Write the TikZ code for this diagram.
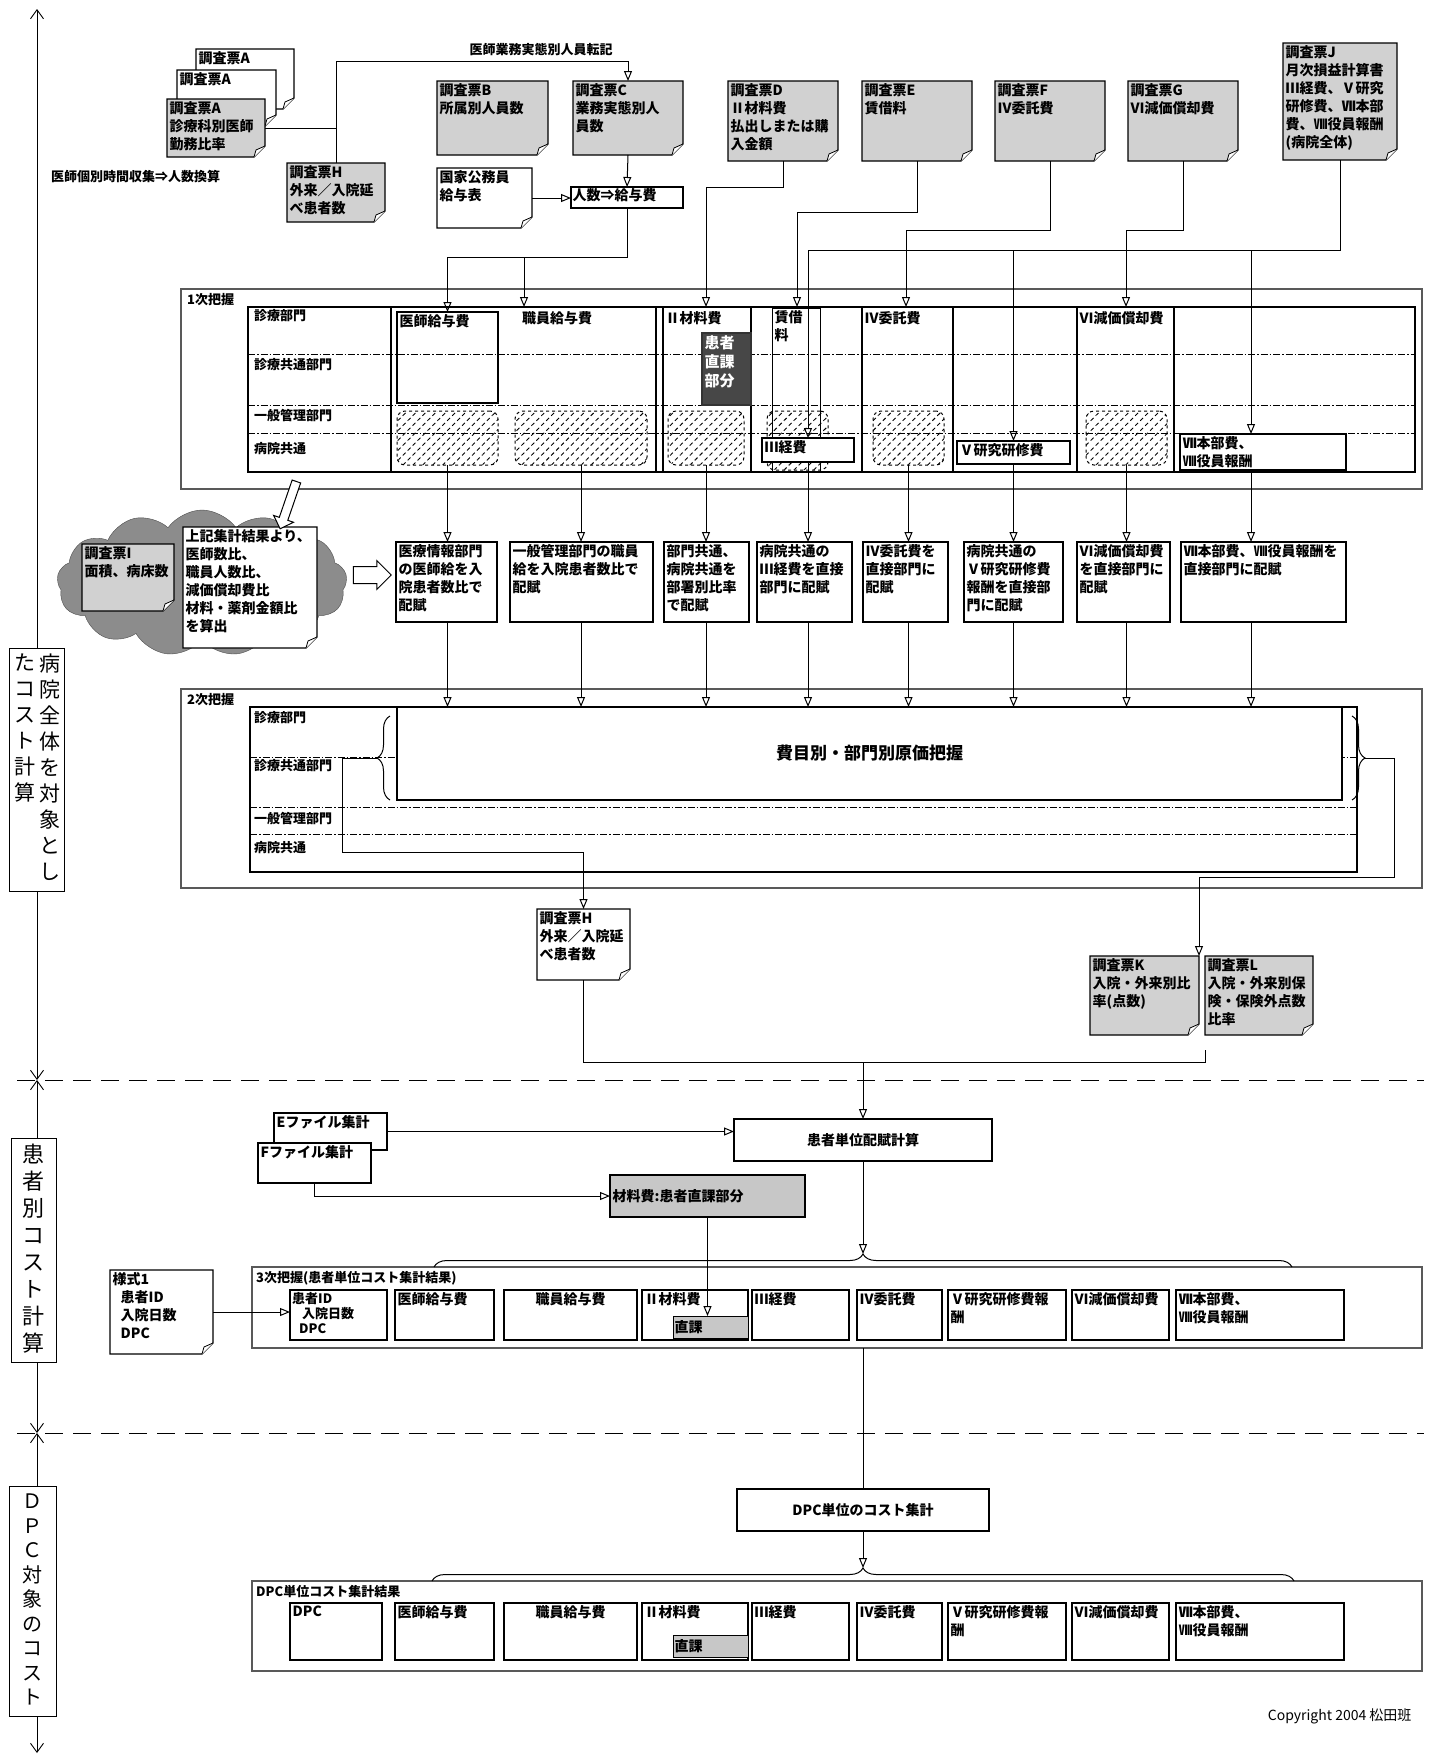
\documentclass[tikz,border=0pt]{standalone}
\usepackage{fontspec}
\setmainfont{Noto Sans CJK JP}
\usepackage{tikz}
\usetikzlibrary{positioning, arrows.meta, shapes.symbols, shapes.arrows, patterns.meta, decorations.pathreplacing}

\newcommand{\fs}{\fontsize{14}{18}\selectfont}
\newcommand{\fchico}{\fontsize{13}{16}\selectfont}

\tikzset{
    box_ficha/.style={rectangle, inner sep=0pt, outer sep=0pt, anchor=north west},
    texto_ficha/.style={anchor=north west, align=left, inner sep=2.5pt, font=\fs\bfseries},
    box_celda/.style={rectangle, draw, line width=1.3pt, fill=white, anchor=north west, inner sep=0pt, outer sep=0pt, font=\fs\bfseries},
    box_lateral/.style={rectangle, draw, line width=1pt, fill=white, anchor=north west, inner sep=0pt, outer sep=0pt},
    box_marco/.style={rectangle, draw=black!65, line width=2.5pt, anchor=north west, inner sep=0pt, outer sep=0pt},
    box_rayado/.style={rectangle, draw, dashed, rounded corners=8pt, line width=1pt, anchor=north west, inner sep=0pt, outer sep=0pt, pattern={Lines[angle=45, distance=7pt, line width=0.9pt]}},
    linea/.style={draw, line width=1pt},
    flecha/.style={draw, line width=1pt, -{Triangle[open, length=10pt, width=8pt]}},
    fila/.style={draw, line width=0.8pt, dash pattern=on 7pt off 2pt on 1.5pt off 2pt},
    llave/.style={draw, line width=1pt, decorate, decoration={brace, amplitude=13pt}},
    eje/.style={draw, line width=0.9pt, {Straight Barb[length=9pt, width=13pt]}-{Straight Barb[length=9pt, width=13pt]}},
    separador/.style={draw, line width=1pt, dash pattern=on 18pt off 10pt},
    texto_tate/.style={anchor=north, align=center, inner sep=0pt},
    rotulo/.style={anchor=west, inner sep=1pt, font=\fchico\bfseries},
    flecha_hueca/.style={single arrow, draw, line width=1pt, fill=white, single arrow head extend=6pt}
}

% hoja con esquina doblada
\newcommand{\ficha}[7]{%
    \node[box_ficha, minimum width=#4pt, minimum height=#5pt] (#1) at (#2,#3) {};
    \filldraw[line width=1.1pt, fill=#6] (#1.north west) -- (#1.north east) -- ([yshift=11pt]#1.south east) -- ([xshift=-11pt]#1.south east) -- (#1.south west) -- cycle;
    \filldraw[line width=0.8pt, fill=white] ([yshift=11pt]#1.south east) -- ([xshift=-9pt, yshift=7pt]#1.south east) -- ([xshift=-11pt]#1.south east);
    \node[texto_ficha] (#1_txt) at (#1.north west) {#7};
}
% caja con texto arriba a la izquierda
\newcommand{\celda}[6]{%
    \node[box_celda, minimum width=#4pt, minimum height=#5pt] (#1) at (#2,#3) {};
    \node[texto_ficha] (#1_txt) at (#1.north west) {#6};
}

\begin{document}
\begin{tikzpicture}[x=1pt, y=-1pt]
    \useasboundingbox (0,0) rectangle (1432,1759);

    % 1. Eje izquierdo y separadores
    \draw[eje] (37,9) -- (37,1080);
    \draw[eje] (37,1080) -- (37,1433);
    \draw[eje] (37,1433) -- (37,1753);
    \draw[separador] (17,1080) -- (1424,1080);
    \draw[separador] (17,1433) -- (1424,1433);

    \node[box_lateral, minimum width=55pt, minimum height=243pt] (lado_hospital) at (9,648) {};
    \node[texto_tate, font=\fontsize{21}{26}\selectfont] (lado_hospital_der) at ([xshift=13pt, yshift=-6pt]lado_hospital.north) {病\\院\\全\\体\\を\\対\\象\\と\\し};
    \node[texto_tate, font=\fontsize{21}{26}\selectfont] (lado_hospital_izq) at ([xshift=-12pt, yshift=-6pt]lado_hospital.north) {た\\コ\\ス\\ト\\計\\算};
    \node[box_lateral, minimum width=45pt, minimum height=224pt] (lado_paciente) at (11,1138) {};
    \node[texto_tate, font=\fontsize{22}{27}\selectfont] (lado_paciente_txt) at ([yshift=-6pt]lado_paciente.north) {患\\者\\別\\コ\\ス\\ト\\計\\算};
    \node[box_lateral, minimum width=47pt, minimum height=230pt] (lado_dpc) at (9,1486) {};
    \node[texto_tate, font=\fontsize{20}{24.5}\selectfont] (lado_dpc_txt) at ([yshift=-8pt]lado_dpc.north) {Ｄ\\Ｐ\\Ｃ\\対\\象\\の\\コ\\ス\\ト};

    % 2. Fichas de la encuesta
    \ficha{hojaA3}{196}{49}{98}{60}{white}{調査票A}
    \ficha{hojaA2}{177}{70}{99}{56}{white}{調査票A}
    \ficha{hojaA1}{167}{99}{98}{58}{black!18}{調査票A\\診療科別医師\\勤務比率}
    \ficha{hojaH1}{287}{163}{98}{59}{black!18}{調査票H\\外来／入院延\\べ患者数}
    \ficha{hojaB}{437}{81}{111}{74}{black!18}{調査票B\\所属別人員数}
    \ficha{hojaC}{573}{81}{110}{74}{black!18}{調査票C\\業務実態別人\\員数}
    \ficha{kokka}{437}{168}{95}{60}{white}{国家公務員\\給与表}
    \node[box_celda, line width=1.1pt, minimum width=112pt, minimum height=21pt] (ninzu) at (571,187) {};
    \node[texto_ficha, inner sep=1.5pt] (ninzu_txt) at (ninzu.north west) {人数⇒給与費};
    \ficha{hojaD}{728}{81}{110}{80}{black!18}{調査票D\\Ⅱ材料費\\払出しまたは購\\入金額}
    \ficha{hojaE}{862}{81}{110}{80}{black!18}{調査票E\\賃借料}
    \ficha{hojaF}{995}{81}{110}{80}{black!18}{調査票F\\Ⅳ委託費}
    \ficha{hojaG}{1128}{81}{110}{80}{black!18}{調査票G\\Ⅵ減価償却費}
    \ficha{hojaJ}{1283}{43}{114}{117}{black!18}{調査票J\\月次損益計算書\\Ⅲ経費、Ⅴ研究\\研修費、Ⅶ本部\\費、Ⅷ役員報酬\\(病院全体)}

    \node[rotulo, anchor=center] (rotulo_tenki) at (541,50) {医師業務実態別人員転記};
    \node[rotulo] (rotulo_jikan) at (50,177) {医師個別時間収集⇒人数換算};

    % 3. 1次把握
    \node[box_marco, minimum width=1241pt, minimum height=200pt] (marco1) at (181,289) {};
    \node[rotulo, anchor=north west] (marco1_txt) at ([xshift=5pt, yshift=-3pt]marco1.north west) {1次把握};
    \node[box_celda, line width=1.2pt, minimum width=1167pt, minimum height=165pt] (tabla1) at (248,307) {};
    \draw[fila] (248,354) -- (1415,354);
    \draw[fila] (248,405) -- (1415,405);
    \draw[fila] (248,433) -- (1415,433);
    \foreach \x in {391,656,663,751,862,953,1077,1174}
        \draw[line width=1.1pt] (\x,307) -- (\x,472);
    \node[rotulo] (t1_shinryo) at (253,316) {診療部門};
    \node[rotulo] (t1_kyotsu) at (253,365) {診療共通部門};
    \node[rotulo] (t1_kanri) at (253,416) {一般管理部門};
    \node[rotulo] (t1_byoin) at (253,449) {病院共通};

    \node[box_celda, fill=none, minimum width=101pt, minimum height=91pt] (ishi1) at (397,312) {};
    \node[texto_ficha] (ishi1_txt) at (ishi1.north west) {医師給与費};
    \node[texto_ficha, anchor=north] (shokuin1_txt) at (557,309) {職員給与費};
    \node[texto_ficha] (zairyo1_txt) at (663,309) {Ⅱ材料費};
    \node[box_celda, fill=none, line width=1pt, minimum width=48pt, minimum height=163pt] (chin1) at (772,308) {};
    \node[texto_ficha] (chin1_txt) at (chin1.north west) {賃借\\料};
    \node[texto_ficha] (itaku1_txt) at (862,309) {Ⅳ委託費};
    \node[texto_ficha] (gensho1_txt) at (1077,309) {Ⅵ減価償却費};

    \node[box_rayado, minimum width=101pt, minimum height=54pt] (rayado1) at (397,411) {};
    \node[box_rayado, minimum width=132pt, minimum height=54pt] (rayado2) at (515,411) {};
    \node[box_rayado, minimum width=76pt, minimum height=54pt] (rayado3) at (668,411) {};
    \node[box_rayado, minimum width=61pt, minimum height=59pt] (rayado4) at (767,411) {};
    \node[box_rayado, minimum width=71pt, minimum height=54pt] (rayado5) at (873,411) {};
    \node[box_rayado, minimum width=81pt, minimum height=54pt] (rayado6) at (1086,411) {};

    \node[box_celda, draw=black!80, fill=black!72, minimum width=49pt, minimum height=72pt] (kanja1) at (702,333) {};
    \node[texto_ficha, text=white, font=\fontsize{15}{19}\selectfont\bfseries] (kanja1_txt) at (kanja1.north west) {患者\\直課\\部分};
    \celda{keihi1}{762}{438}{92}{24}{Ⅲ経費}
    \celda{kenkyu1}{957}{441}{113}{23}{Ⅴ研究研修費}
    \celda{honbu1}{1180}{434}{166}{36}{Ⅶ本部費、\\Ⅷ役員報酬}

    % 4. Nube con los ratios
    \node[cloud, cloud puffs=13, cloud puff arc=110, aspect=2, draw=black!70, fill=black!45, minimum width=290pt, minimum height=146pt] (nube) at (202,583) {};
    \ficha{hojaI}{82}{544}{92}{67}{black!18}{調査票I\\面積、病床数}
    \ficha{nota}{183}{527}{134}{121}{white}{上記集計結果より、\\医師数比、\\職員人数比、\\減価償却費比\\材料・薬剤金額比\\を算出}
    \node[flecha_hueca, minimum height=50pt, inner sep=4pt, rotate=-109] (flecha_nota) at (289,503) {};
    \node[flecha_hueca, minimum height=38pt, inner sep=8pt] (flecha_nube) at (368,575) {};

    % 5. Cajas de reparto
    \celda{reparto1}{396}{542}{101}{80}{医療情報部門\\の医師給を入\\院患者数比で\\配賦}
    \celda{reparto2}{510}{542}{143}{80}{一般管理部門の職員\\給を入院患者数比で\\配賦}
    \celda{reparto3}{664}{542}{85}{80}{部門共通、\\病院共通を\\部署別比率\\で配賦}
    \celda{reparto4}{757}{542}{95}{80}{病院共通の\\Ⅲ経費を直接\\部門に配賦}
    \celda{reparto5}{863}{542}{85}{80}{Ⅳ委託費を\\直接部門に\\配賦}
    \celda{reparto6}{964}{542}{99}{80}{病院共通の\\Ⅴ研究研修費\\報酬を直接部\\門に配賦}
    \celda{reparto7}{1077}{542}{93}{80}{Ⅵ減価償却費\\を直接部門に\\配賦}
    \celda{reparto8}{1181}{542}{165}{80}{Ⅶ本部費、Ⅷ役員報酬を\\直接部門に配賦}

    % 6. 2次把握
    \node[box_marco, minimum width=1241pt, minimum height=199pt] (marco2) at (181,689) {};
    \node[rotulo, anchor=north west] (marco2_txt) at ([xshift=5pt, yshift=-3pt]marco2.north west) {2次把握};
    \node[box_celda, line width=1.2pt, minimum width=1107pt, minimum height=165pt] (tabla2) at (250,707) {};
    \draw[fila] (250,757) -- (1357,757);
    \draw[fila] (250,807) -- (1357,807);
    \draw[fila] (250,834) -- (1357,834);
    \node[rotulo] (t2_shinryo) at (253,718) {診療部門};
    \node[rotulo] (t2_kyotsu) at (253,766) {診療共通部門};
    \node[rotulo] (t2_kanri) at (253,818) {一般管理部門};
    \node[rotulo] (t2_byoin) at (253,848) {病院共通};
    \node[box_celda, minimum width=945pt, minimum height=93pt, font=\fontsize{17}{20}\selectfont\bfseries] (grande) at (397,707) {費目別・部門別原価把握};
    \draw[llave] (390,800) -- (390,716);
    \draw[llave] (1352,716) -- (1352,800);
    \coordinate (llave_izq) at (377,758);
    \coordinate (llave_der) at (1365,758);

    % 7. Fichas H, K, L
    \ficha{hojaH2}{537}{909}{93}{71}{white}{調査票H\\外来／入院延\\べ患者数}
    \ficha{hojaK}{1090}{956}{109}{79}{black!18}{調査票K\\入院・外来別比\\率(点数)}
    \ficha{hojaL}{1205}{956}{108}{79}{black!18}{調査票L\\入院・外来別保\\険・保険外点数\\比率}
    \coordinate (union_KL) at ([yshift=-15pt]hojaL.south west);
    \coordinate (union) at (863,1062);

    % 8. Calculo por paciente
    \node[box_celda, minimum width=258pt, minimum height=42pt] (paciente) at (734,1119) {患者単位配賦計算};
    \celda{archivoE}{274}{1113}{113}{37}{Eファイル集計}
    \celda{archivoF}{258}{1143}{113}{40}{Fファイル集計}
    \node[box_celda, fill=black!22, minimum width=195pt, minimum height=42pt] (material) at (610,1175) {};
    \node[texto_ficha, anchor=west] (material_txt) at (material.west) {材料費:患者直課部分};
    \ficha{yoshiki}{110}{1270}{103}{84}{white}{様式1\\\hspace{8pt}患者ID\\\hspace{8pt}入院日数\\\hspace{8pt}DPC}

    \node[box_marco, minimum width=1170pt, minimum height=81pt] (marco3) at (252,1267) {};
    \node[rotulo, anchor=north west] (marco3_txt) at ([xshift=3pt, yshift=-3pt]marco3.north west) {3次把握(患者単位コスト集計結果)};
    \draw[llave] (434,1267) -- (1292,1267);
    \coordinate (llave3_punta) at (863,1254);
    \node[box_celda, minimum width=97pt, minimum height=50pt] (c3_id) at (290,1290) {};
    \node[texto_ficha, font=\fontsize{13}{15}\selectfont\bfseries, inner sep=2pt] (c3_id_txt) at (c3_id.north west) {患者ID\\\hspace{10pt}入院日数\\\hspace{7pt}DPC};
    \celda{c3_ishi}{395}{1290}{99}{50}{医師給与費}
    \node[box_celda, minimum width=133pt, minimum height=50pt] (c3_shokuin) at (504,1290) {};
    \node[texto_ficha, anchor=north] (c3_shokuin_txt) at (c3_shokuin.north) {職員給与費};
    \celda{c3_zairyo}{642}{1290}{106}{50}{Ⅱ材料費}
    \node[box_celda, line width=1pt, fill=black!22, minimum width=75pt, minimum height=22pt] (chokka3) at (673,1316) {};
    \node[texto_ficha, anchor=west, inner sep=1.5pt] (chokka3_txt) at (chokka3.west) {直課};
    \celda{c3_keihi}{752}{1290}{97}{50}{Ⅲ経費}
    \celda{c3_itaku}{857}{1290}{85}{50}{Ⅳ委託費}
    \celda{c3_kenkyu}{948}{1290}{118}{50}{Ⅴ研究研修費報\\酬}
    \celda{c3_gensho}{1072}{1290}{97}{50}{Ⅵ減価償却費}
    \celda{c3_honbu}{1176}{1290}{168}{50}{Ⅶ本部費、\\Ⅷ役員報酬}

    % 9. Costo por DPC
    \node[box_celda, minimum width=252pt, minimum height=42pt] (dpcsuma) at (737,1489) {DPC単位のコスト集計};
    \node[box_marco, minimum width=1170pt, minimum height=90pt] (marco4) at (252,1581) {};
    \node[rotulo, anchor=north west] (marco4_txt) at ([xshift=3pt, yshift=-3pt]marco4.north west) {DPC単位コスト集計結果};
    \draw[llave] (432,1581) -- (1294,1581);
    \coordinate (llave4_punta) at (863,1568);
    \celda{c4_dpc}{290}{1603}{92}{57}{DPC}
    \celda{c4_ishi}{395}{1603}{99}{57}{医師給与費}
    \node[box_celda, minimum width=133pt, minimum height=57pt] (c4_shokuin) at (504,1603) {};
    \node[texto_ficha, anchor=north] (c4_shokuin_txt) at (c4_shokuin.north) {職員給与費};
    \celda{c4_zairyo}{642}{1603}{106}{57}{Ⅱ材料費}
    \node[box_celda, line width=1pt, fill=black!22, minimum width=75pt, minimum height=22pt] (chokka4) at (673,1635) {};
    \node[texto_ficha, anchor=west, inner sep=1.5pt] (chokka4_txt) at (chokka4.west) {直課};
    \celda{c4_keihi}{752}{1603}{97}{57}{Ⅲ経費}
    \celda{c4_itaku}{857}{1603}{85}{57}{Ⅳ委託費}
    \celda{c4_kenkyu}{948}{1603}{118}{57}{Ⅴ研究研修費報\\酬}
    \celda{c4_gensho}{1072}{1603}{97}{57}{Ⅵ減価償却費}
    \celda{c4_honbu}{1176}{1603}{168}{57}{Ⅶ本部費、\\Ⅷ役員報酬}

    \node[anchor=east, font=\fontsize{14}{16}\selectfont] (copyright) at (1415,1716) {Copyright 2004 松田班};

    % --- CONEXIONES ---

    % Parte superior
    \draw[linea] (hojaA1.east) -| (hojaH1.north);
    \draw[flecha] (hojaH1.north) -- ++(0,-102) -| (hojaC.north);
    \draw[flecha] (kokka.east) -- (kokka.east -| ninzu.west);
    \draw[flecha] (hojaC.south) -- (ninzu.north);
    \draw[flecha] (ninzu.south) -- ++(0,49) -| (ishi1.north);
    \coordinate (rama_shokuin) at (524,257);
    \draw[flecha] (rama_shokuin) -- (rama_shokuin |- tabla1.north);
    \coordinate (in_zairyo) at (706,307);
    \coordinate (in_chin) at (797,307);
    \coordinate (in_itaku) at (906,307);
    \coordinate (in_gensho) at (1126,307);
    \draw[flecha] (hojaD.south) -- ++(0,26) -| (in_zairyo);
    \draw[flecha] (hojaE.south) -- ++(0,51) -| (in_chin);
    \draw[flecha] (hojaF.south) -- ++(0,69) -| (in_itaku);
    \draw[flecha] (hojaG.south) -- ++(0,69) -| (in_gensho);
    \draw[flecha] (hojaJ.south) -- ++(0,90) -| (keihi1.north);
    \coordinate (rama_kenkyu) at (1013.5,250);
    \coordinate (rama_honbu) at (1251,250);
    \draw[flecha] (rama_kenkyu) -- (kenkyu1.north);
    \draw[flecha] (rama_honbu) -- (rama_honbu |- honbu1.north);

    % De 1次把握 a los repartos
    \draw[flecha] (rayado1.south) -- (rayado1.south |- reparto1.north);
    \draw[flecha] (rayado2.south) -- (rayado2.south |- reparto2.north);
    \draw[flecha] (rayado3.south) -- (rayado3.south |- reparto3.north);
    \draw[flecha] (keihi1.south) -- (keihi1.south |- reparto4.north);
    \draw[flecha] (rayado5.south) -- (rayado5.south |- reparto5.north);
    \draw[flecha] (kenkyu1.south) -- (kenkyu1.south |- reparto6.north);
    \draw[flecha] (rayado6.south) -- (rayado6.south |- reparto7.north);
    \draw[flecha] (rama_honbu |- honbu1.south) -- (rama_honbu |- reparto8.north);

    % De los repartos a 2次把握
    \draw[flecha] (rayado1.south |- reparto1.south) -- (rayado1.south |- grande.north);
    \draw[flecha] (rayado2.south |- reparto2.south) -- (rayado2.south |- grande.north);
    \draw[flecha] (rayado3.south |- reparto3.south) -- (rayado3.south |- grande.north);
    \draw[flecha] (keihi1.south |- reparto4.south) -- (keihi1.south |- grande.north);
    \draw[flecha] (rayado5.south |- reparto5.south) -- (rayado5.south |- grande.north);
    \draw[flecha] (kenkyu1.south |- reparto6.south) -- (kenkyu1.south |- grande.north);
    \draw[flecha] (rayado6.south |- reparto7.south) -- (rayado6.south |- grande.north);
    \draw[flecha] (rama_honbu |- reparto8.south) -- (rama_honbu |- grande.north);

    % De 2次把握 a las fichas
    \draw[flecha] (llave_izq) -- (342,758) |- (hojaH2.north |- 0,852) -- (hojaH2.north);
    \draw[flecha] (llave_der) -- (1394,758) |- (hojaK.north east |- 0,877) -- (hojaK.north east);
    \draw[linea] (hojaH2.south) |- ([yshift=-12pt]union_KL) -- (union_KL);
    \draw[flecha] (union) -- (paciente.north);

    % Calculo por paciente
    \draw[flecha] (archivoE.east) -- (archivoE.east -| paciente.west);
    \draw[flecha] (archivoF.south) |- (material.west);
    \draw[flecha] (material.south) -- (material.south |- chokka3.north);
    \draw[flecha] (paciente.south) -- (llave3_punta);
    \draw[flecha] (yoshiki.east) -- (yoshiki.east -| c3_id.west);

    % Costo por DPC
    \draw[linea] (marco3.south -| dpcsuma.north) -- (dpcsuma.north);
    \draw[flecha] (dpcsuma.south) -- (llave4_punta);

\end{tikzpicture}
\end{document}
